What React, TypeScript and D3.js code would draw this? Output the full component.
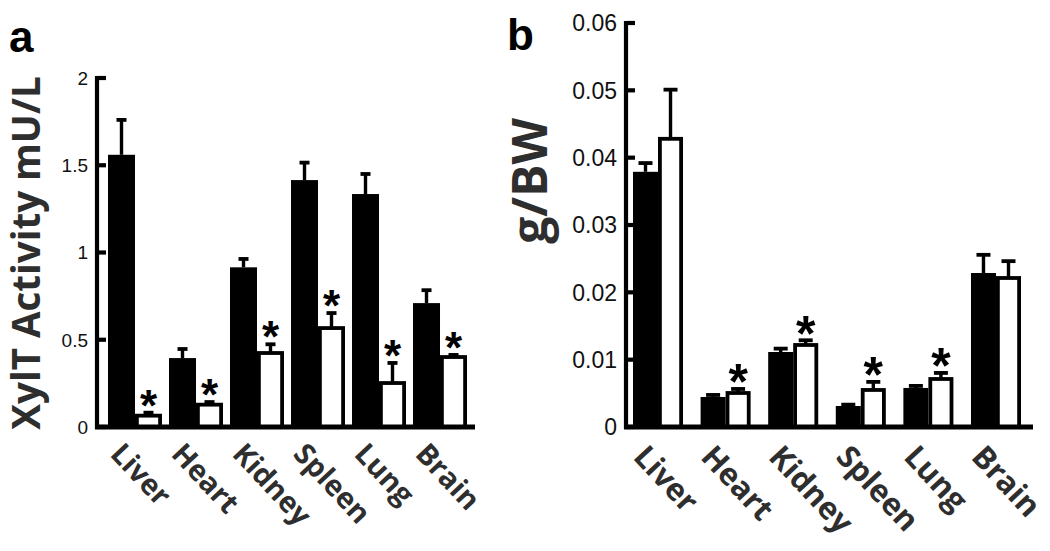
import React from 'react';
import * as d3 from 'd3';

const organs = ['Liver', 'Heart', 'Kidney', 'Spleen', 'Lung', 'Brain'];
const series = ['control', 'knockout'];

// Panel a: XylT activity (mU/L)
const activityControl = [1.56, 0.395, 0.915, 1.415, 1.335, 0.71];
const activityControlErr = [0.2, 0.052, 0.048, 0.1, 0.115, 0.074];
const activityKO = [0.065, 0.128, 0.424, 0.567, 0.252, 0.401];
const activityKOErr = [0.017, 0.015, 0.05, 0.086, 0.115, 0.012];
const activitySig = [true, true, true, true, true, true];
const activityTicks = [0, 0.5, 1, 1.5, 2];
const activityTickLabels = ['0', '0.5', '1', '1.5', '2'];

// Panel b: organ weight / body weight
const weightControl = [0.0379, 0.00446, 0.01114, 0.00312, 0.0058, 0.02287];
const weightControlErr = [0.0013, 0.0003, 0.0005, 0.0002, 0.0003, 0.0027];
const weightKO = [0.0428, 0.00505, 0.01218, 0.0055, 0.00713, 0.02213];
const weightKOErr = [0.0073, 0.0006, 0.0007, 0.0012, 0.0009, 0.0025];
const weightSig = [false, true, true, true, true, false];
const weightTicks = [0, 0.01, 0.02, 0.03, 0.04, 0.05, 0.06];
const weightTickLabels = ['0', '0.01', '0.02', '0.03', '0.04', '0.05', '0.06'];

type PanelProps = {
  ctrl: number[]; ctrlErr: number[]; ko: number[]; koErr: number[]; sig: boolean[];
  ticks: number[]; tickLabels: string[]; yMax: number;
  axisX: number; yTop: number; yBase: number; xStart: number; xEnd: number; padInner: number;
  tickFont: number; labelFont: number; capW: number; starFont: number;
  baseEnd: number; labelDx: number; labelY: number;
};

function Panel(p: PanelProps) {
  const y = d3.scaleLinear().domain([0, p.yMax]).range([p.yBase, p.yTop]);
  const x = d3.scaleBand<string>().domain(organs).range([p.xStart, p.xEnd]).paddingInner(p.padInner).paddingOuter(0);
  const sub = d3.scaleBand<string>().domain(series).range([0, x.bandwidth()]).padding(0);
  const bw = sub.bandwidth();
  const sw = 3.8;
  const err = (cx: number, v: number, e: number, key: string) => (
    <g key={key}>
      <line x1={cx} x2={cx} y1={y(v)} y2={y(v + e)} stroke="#000" strokeWidth={3.4} />
      <line x1={cx - p.capW / 2} x2={cx + p.capW / 2} y1={y(v + e)} y2={y(v + e)} stroke="#000" strokeWidth={3.8} />
    </g>
  );
  return (
    <g>
      {organs.map((o, i) => {
        const gx = x(o)!;
        const bx = gx + sub('control')!;
        const wx = gx + sub('knockout')!;
        const capTop = y(p.ko[i] + p.koErr[i]) - 2;
        return (
          <g key={o}>
            {err(bx + bw / 2, p.ctrl[i], p.ctrlErr[i], 'ec')}
            {err(wx + bw / 2, p.ko[i], p.koErr[i], 'ek')}
            <rect x={bx} y={y(p.ctrl[i])} width={bw} height={p.yBase - y(p.ctrl[i])} fill="#000" />
            <rect x={wx + sw / 2} y={y(p.ko[i])} width={bw - sw} height={p.yBase - y(p.ko[i])} fill="#fff" stroke="#000" strokeWidth={sw} />
            {p.sig[i] && (
              <text x={wx + bw / 2} y={capTop - 7 + 0.39 * p.starFont} textAnchor="middle"
                fontFamily="'Liberation Sans', Arial, sans-serif" fontWeight="bold" fontSize={p.starFont} fill="#000">*</text>
            )}
            <text transform={`translate(${gx + p.labelDx},${p.labelY}) rotate(47)`}
              fontFamily="'Open Sans', sans-serif" fontWeight="bold" fontSize={p.labelFont} fill="#2e2e2e">{o}</text>
          </g>
        );
      })}
      <line x1={p.axisX} x2={p.axisX} y1={p.yTop - 2} y2={p.yBase + 2} stroke="#000" strokeWidth={4.2} />
      <line x1={p.axisX - 2} x2={p.baseEnd} y1={p.yBase} y2={p.yBase} stroke="#000" strokeWidth={4.8} />
      {p.ticks.map((t, i) => (
        <g key={t}>
          <line x1={p.axisX} x2={p.axisX + 9} y1={y(t)} y2={y(t)} stroke="#000" strokeWidth={4.2} />
          <text x={p.axisX - 9} y={y(t)} dy="0.36em" textAnchor="end"
            fontFamily="'Liberation Sans', Arial, sans-serif" fontSize={p.tickFont} fill="#111">{p.tickLabels[i]}</text>
        </g>
      ))}
    </g>
  );
}

export default function App() {
  return (
    <svg width={1050} height={551} style={{ position: 'absolute', left: 0, top: 0, background: '#fff' }}>
      <rect x={0} y={0} width={1050} height={551} fill="#fff" />
      <text x={9} y={52} fontFamily="'Liberation Sans', Arial, sans-serif" fontWeight="bold" fontSize={44} fill="#000">a</text>
      <text x={507} y={50} fontFamily="'Liberation Sans', Arial, sans-serif" fontWeight="bold" fontSize={44} fill="#000">b</text>
      <text transform="translate(40,253) rotate(-90)" textAnchor="middle"
        fontFamily="'Open Sans', sans-serif" fontWeight="bold" fontSize={38.5} fill="#2e2e2e">XylT Activity mU/L</text>
      <text transform="translate(547,181) rotate(-90)" textAnchor="middle"
        fontFamily="'Open Sans', sans-serif" fontWeight="bold" fontSize={48} fill="#2e2e2e">g/BW</text>
      <Panel ctrl={activityControl} ctrlErr={activityControlErr} ko={activityKO} koErr={activityKOErr} sig={activitySig}
        ticks={activityTicks} tickLabels={activityTickLabels} yMax={2}
        axisX={97} yTop={78} yBase={427} xStart={108} xEnd={467} padInner={0.115}
        tickFont={19} labelFont={29} capW={10} starFont={44} baseEnd={475} labelDx={1} labelY={455} />
      <Panel ctrl={weightControl} ctrlErr={weightControlErr} ko={weightKO} koErr={weightKOErr} sig={weightSig}
        ticks={weightTicks} tickLabels={weightTickLabels} yMax={0.06}
        axisX={626} yTop={23} yBase={427} xStart={633} xEnd={1021} padInner={0.26}
        tickFont={23} labelFont={31} capW={14} starFont={50} baseEnd={1033} labelDx={-1} labelY={458} />
    </svg>
  );
}
